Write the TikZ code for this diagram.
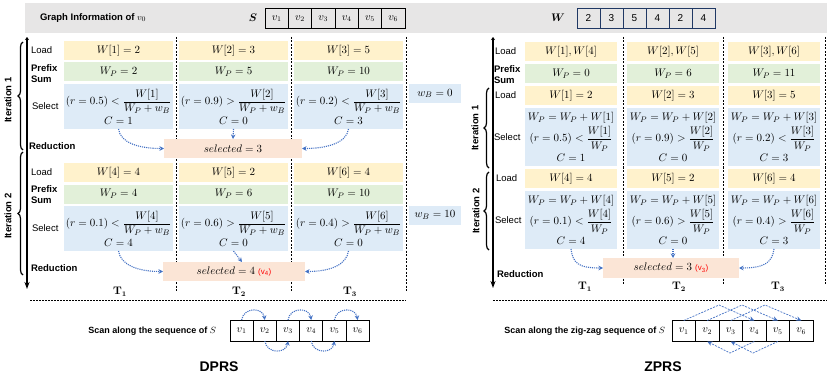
\documentclass[tikz,border=0pt]{standalone}
\usepackage{amsmath}
\usepackage[no-math]{fontspec}
\setmainfont{Liberation Sans}
\usetikzlibrary{arrows.meta,decorations.pathreplacing,calc}
\definecolor{loadc}{HTML}{FFF2CC}
\definecolor{prefc}{HTML}{E2F0D9}
\definecolor{selc}{HTML}{DEEBF7}
\definecolor{redc}{HTML}{FBE5D6}
\definecolor{bannerc}{HTML}{E7E6E6}
\definecolor{arrc}{HTML}{4472C4}
\definecolor{navyc}{HTML}{203864}
\begin{document}
\begin{tikzpicture}[x=1pt,y=-1pt,
  every node/.style={inner sep=0pt,outer sep=0pt},
  lbl/.style={anchor=west,font=\fontsize{9.5}{11}\selectfont,align=left},
  blbl/.style={anchor=west,font=\fontsize{9.5}{11}\selectfont\bfseries,align=left},
  itx/.style={font=\fontsize{9.5}{11}\selectfont\bfseries,rotate=90},
  mbox/.style={rectangle,align=center,font=\fontsize{11}{12.5}\selectfont},
  loadb/.style={mbox,fill=loadc,minimum height=19},
  prefb/.style={mbox,fill=prefc,minimum height=19},
  selb/.style={mbox,fill=selc,minimum height=45},
  selr/.style={mbox,fill=selc,minimum height=58},
  redb/.style={mbox,fill=redc,minimum height=19},
  lw/.style={minimum width=109},
  rw/.style={minimum width=92},
  scell/.style={draw=black,line width=0.9pt,minimum width=23.3,minimum height=19.5,font=\fontsize{10.5}{12}\selectfont},
  wcell/.style={draw=navyc,line width=1pt,minimum width=23,minimum height=19.5,font=\fontsize{10}{12}\selectfont},
  bcell/.style={draw=black,line width=0.9pt,minimum width=23.3,minimum height=21,font=\fontsize{10.5}{12}\selectfont},
  tl/.style={font=\fontsize{10.5}{12}\selectfont},
  bigt/.style={font=\fontsize{14}{16}\selectfont\bfseries},
  scantxt/.style={anchor=east,font=\fontsize{9}{11}\selectfont\bfseries},
  vdash/.style={dash pattern=on 2pt off 1.5pt,line width=0.8pt},
  hdash/.style={dash pattern=on 2pt off 1pt,line width=0.7pt},
  axisline/.style={line width=1.2pt,{Stealth[length=3pt,width=4pt]}-{Stealth[length=7pt,width=5pt]}},
  bracestyle/.style={decorate,decoration={brace,amplitude=5pt},line width=1.2pt},
  darr/.style={draw=arrc,densely dotted,line width=1.1pt,-{Stealth[length=4.5pt,width=4.5pt]}},
  zarr/.style={draw=arrc,dash pattern=on 2pt off 1.2pt,line width=0.7pt,-{Stealth[length=5pt,width=4.5pt]}}
]
\useasboundingbox (0,0) rectangle (830,385);

% ---------------- banner ----------------
\fill[bannerc] (25,3) rectangle (827,33);
\node[blbl] (title) at (40,18) {Graph Information of \mdseries$v_0$};
\node[tl] (Slbl) at (253,18) {$\boldsymbol{S}$};
\foreach \i in {1,...,6} \node[scell] (s\i) at ({265+23.33*(\i-0.5)},18.5) {$v_{\i}$};
\node[tl] (Wlbl) at (558,18) {$\boldsymbol{W}$};
\foreach \v [count=\i] in {2,3,5,4,2,4} \node[wcell] (w\i) at ({577+23*(\i-0.5)},18.5) {\v};

% ---------------- DPRS: axis, braces, labels ----------------
\coordinate (axL0) at (27,37);
\coordinate (axL1) at (27,289);
\draw[axisline] (axL0) -- (axL1);
\draw[bracestyle] (23,150) -- (23,42);
\draw[bracestyle] (23,275) -- (23,152);
\node[itx] (itL1) at (8,100) {Iteration 1};
\node[itx] (itL2) at (8,216) {Iteration 2};

\node[lbl] (lLoad1) at (31,50.5) {Load};
\node[blbl] (lPre1) at (31,73.5) {Prefix\\Sum};
\node[lbl] (lSel1) at (32,106.5) {Select};
\node[blbl] (lRed1) at (29,146) {Reduction};
\node[lbl] (lLoad2) at (31,172.5) {Load};
\node[blbl] (lPre2) at (31,195) {Prefix\\Sum};
\node[lbl] (lSel2) at (32,228.5) {Select};
\node[blbl] (lRed2) at (31,268) {Reduction};

% dashed separators
\draw[vdash] (176,37) -- (176,291);
\draw[vdash] (291,37) -- (291,291);
\draw[vdash] (406,37) -- (406,291);

% iteration 1
\node[loadb,lw] (L1a) at (118.5,50.5) {$W[1]=2$};
\node[loadb,lw] (L1b) at (233.5,50.5) {$W[2]=3$};
\node[loadb,lw] (L1c) at (348.5,50.5) {$W[3]=5$};
\node[prefb,lw] (P1a) at (118.5,72) {$W_P=2$};
\node[prefb,lw] (P1b) at (233.5,72) {$W_P=5$};
\node[prefb,lw] (P1c) at (348.5,72) {$W_P=10$};
\node[selb,lw] (S1a) at (118.5,106.5) {$(r=0.5)<\dfrac{W[1]}{W_P+w_B}$\\[2pt]$C=1$};
\node[selb,lw] (S1b) at (233.5,106.5) {$(r=0.9)>\dfrac{W[2]}{W_P+w_B}$\\[2pt]$C=0$};
\node[selb,lw] (S1c) at (348.5,106.5) {$(r=0.2)<\dfrac{W[3]}{W_P+w_B}$\\[2pt]$C=3$};
\node[mbox,fill=selc,minimum width=52,minimum height=19] (wB1) at (435,93.5) {$w_B=0$};
\node[redb,minimum width=138] (R1) at (233,148.5) {$selected=3$};

% iteration 2
\node[loadb,lw] (L2a) at (118.5,172.5) {$W[4]=4$};
\node[loadb,lw] (L2b) at (233.5,172.5) {$W[5]=2$};
\node[loadb,lw] (L2c) at (348.5,172.5) {$W[6]=4$};
\node[prefb,lw] (P2a) at (118.5,194) {$W_P=4$};
\node[prefb,lw] (P2b) at (233.5,194) {$W_P=6$};
\node[prefb,lw] (P2c) at (348.5,194) {$W_P=10$};
\node[selb,lw] (S2a) at (118.5,228.5) {$(r=0.1)<\dfrac{W[4]}{W_P+w_B}$\\[2pt]$C=4$};
\node[selb,lw] (S2b) at (233.5,228.5) {$(r=0.6)>\dfrac{W[5]}{W_P+w_B}$\\[2pt]$C=0$};
\node[selb,lw] (S2c) at (348.5,228.5) {$(r=0.4)>\dfrac{W[6]}{W_P+w_B}$\\[2pt]$C=0$};
\node[mbox,fill=selc,minimum width=52,minimum height=19] (wB2) at (435,215) {$w_B=10$};
\node[redb,minimum width=142] (R2) at (234,271.5) {$selected=4$ \textcolor{red}{\fontsize{8}{9}\selectfont(v\textsubscript{4})}};

% arrows
\draw[darr] (S1a.south) .. controls +(2,14) and +(-25,0) .. (R1.west);
\draw[darr] (S1b.south) -- (R1.north);
\draw[darr] (S1c.south) .. controls +(-2,14) and +(25,0) .. (R1.east);
\draw[darr] (S2a.south) .. controls +(2,14) and +(-25,0) .. (R2.west);
\coordinate (R2n) at (242,262);
\draw[darr] (S2b.south) -- (R2n);
\draw[darr] (S2c.south) .. controls +(-2,14) and +(25,0) .. (R2.east);

\node[tl] (T1L) at (120,292) {$\mathbf{T_1}$};
\node[tl] (T2L) at (239,292) {$\mathbf{T_2}$};
\node[tl] (T3L) at (350,292) {$\mathbf{T_3}$};

% ---------------- ZPRS ----------------
\coordinate (axR0) at (493,37);
\coordinate (axR1) at (493,288);
\draw[axisline] (axR0) -- (axR1);
\draw[bracestyle] (489,168) -- (489,88);
\draw[bracestyle] (489,250) -- (489,172);
\node[itx] (itR1) at (475,128) {Iteration 1};
\node[itx] (itR2) at (476,211) {Iteration 2};

\node[lbl] (rLoad0) at (495,51.5) {Load};
\node[blbl] (rPre) at (494,75) {Prefix\\Sum};
\node[lbl] (rLoad1) at (495,95.5) {Load};
\node[lbl] (rSel1) at (494,137) {Select};
\node[lbl] (rLoad2) at (496,178.5) {Load};
\node[lbl] (rSel2) at (495,220) {Select};
\node[blbl] (rRed) at (497,274) {Reduction};

\draw[vdash] (623,37) -- (623,284);
\draw[vdash] (723,37) -- (723,284);
\draw[vdash] (825,37) -- (825,284);

\node[loadb,rw] (ZL0a) at (571,51.5) {$W[1],W[4]$};
\node[loadb,rw] (ZL0b) at (673,51.5) {$W[2],W[5]$};
\node[loadb,rw] (ZL0c) at (774,51.5) {$W[3],W[6]$};
\node[prefb,rw] (ZPa) at (571,73.5) {$W_P=0$};
\node[prefb,rw] (ZPb) at (673,73.5) {$W_P=6$};
\node[prefb,rw] (ZPc) at (774,73.5) {$W_P=11$};
\node[loadb,rw] (ZL1a) at (571,95.5) {$W[1]=2$};
\node[loadb,rw] (ZL1b) at (673,95.5) {$W[2]=3$};
\node[loadb,rw] (ZL1c) at (774,95.5) {$W[3]=5$};
\node[selr,rw] (ZS1a) at (571,137) {$W_P=W_P+W[1]$\\[2pt]$(r=0.5)<\dfrac{W[1]}{W_P}$\\[2pt]$C=1$};
\node[selr,rw] (ZS1b) at (673,137) {$W_P=W_P+W[2]$\\[2pt]$(r=0.9)>\dfrac{W[2]}{W_P}$\\[2pt]$C=0$};
\node[selr,rw] (ZS1c) at (774,137) {$W_P=W_P+W[3]$\\[2pt]$(r=0.2)<\dfrac{W[3]}{W_P}$\\[2pt]$C=3$};
\node[loadb,rw] (ZL2a) at (571,178.5) {$W[4]=4$};
\node[loadb,rw] (ZL2b) at (673,178.5) {$W[5]=2$};
\node[loadb,rw] (ZL2c) at (774,178.5) {$W[6]=4$};
\node[selr,rw] (ZS2a) at (571,220) {$W_P=W_P+W[4]$\\[2pt]$(r=0.1)<\dfrac{W[4]}{W_P}$\\[2pt]$C=4$};
\node[selr,rw] (ZS2b) at (673,220) {$W_P=W_P+W[5]$\\[2pt]$(r=0.6)>\dfrac{W[5]}{W_P}$\\[2pt]$C=0$};
\node[selr,rw] (ZS2c) at (774,220) {$W_P=W_P+W[6]$\\[2pt]$(r=0.4)>\dfrac{W[6]}{W_P}$\\[2pt]$C=3$};
\node[redb,minimum width=136,minimum height=20] (ZR) at (671,268) {$selected=3$ \textcolor{red}{\fontsize{8}{9}\selectfont(v\textsubscript{3})}};

\coordinate (ZRn) at (673,258);
\draw[darr] (ZS2a.south) .. controls +(2,14) and +(-25,0) .. (ZR.west);
\draw[darr] (ZS2b.south) -- (ZRn);
\draw[darr] (ZS2c.south) .. controls +(-2,14) and +(25,0) .. (ZR.east);

\node[tl] (T1R) at (585,287) {$\mathbf{T_1}$};
\node[tl] (T2R) at (679,287) {$\mathbf{T_2}$};
\node[tl] (T3R) at (778,287) {$\mathbf{T_3}$};

% ---------------- bottom ----------------
\draw[hdash] (30,300) -- (406,300);
\draw[hdash] (493,300) -- (827,300);

\node[scantxt] (scanL) at (216,331) {Scan along the sequence of \mdseries$S$};
\foreach \i in {1,...,6} \node[bcell] (a\i) at ({230+23.2*(\i-0.5)},330.5) {$v_{\i}$};
\draw[darr] (a1.north) .. controls +(2,-13) and +(-2,-13) .. (a2.north);
\draw[darr] (a3.north) .. controls +(2,-13) and +(-2,-13) .. (a4.north);
\draw[darr] (a5.north) .. controls +(2,-13) and +(-2,-13) .. (a6.north);
\draw[darr] (a2.south) .. controls +(2,13) and +(-2,13) .. (a3.south);
\draw[darr] (a4.south) .. controls +(2,13) and +(-2,13) .. (a5.south);
\node[bigt] (dprs) at (219,367) {DPRS};

\node[scantxt] (scanR) at (665,331) {Scan along the zig-zag sequence of \mdseries$S$};
\foreach \i in {1,...,6} \node[bcell,minimum width=23.5] (z\i) at ({672+23.5*(\i-0.5)},331) {$v_{\i}$};
\coordinate (ta1) at (719,305);
\coordinate (ta2) at (742,305);
\coordinate (ta3) at (765,305);
\coordinate (ba1) at (730,353);
\coordinate (ba2) at (753,353);
\draw[zarr] (z1.north) -- (ta1) -- (z4.north);
\draw[zarr] (z2.north) -- (ta2) -- (z5.north);
\draw[zarr] (z3.north) -- (ta3) -- (z6.north);
\draw[zarr] (z4.south) -- (ba1) -- (z2.south);
\draw[zarr] (z5.south) -- (ba2) -- (z3.south);
\node[bigt] (zprs) at (663,367) {ZPRS};
\end{tikzpicture}
\end{document}
